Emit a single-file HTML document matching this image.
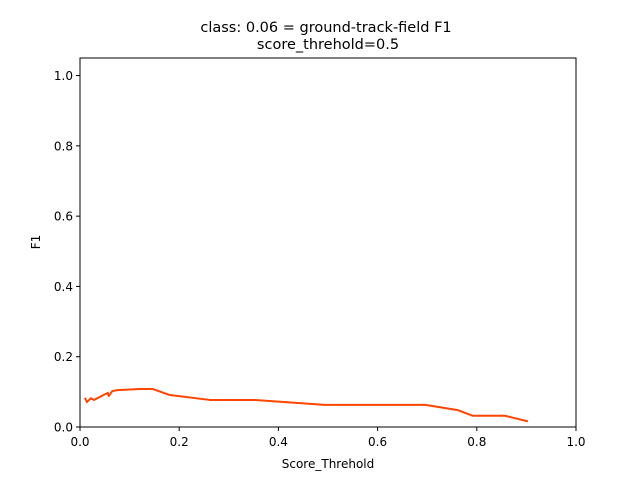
<!DOCTYPE html>
<html><head><meta charset="utf-8"><style>
body{margin:0;background:#fff;}
svg text{font-family:"DejaVu Sans","Liberation Sans",sans-serif;fill:#000;}
</style></head><body>
<svg id="chart" width="640" height="480" xmlns="http://www.w3.org/2000/svg">
<rect width="640" height="480" fill="#fff"/>
<text x="326" y="32" text-anchor="middle" font-size="14.5">class: 0.06 = ground-track-field F1</text>
<text x="328" y="49" text-anchor="middle" font-size="14.5">score_threhold=0.5</text>
<g id="ticks"></g>
<polyline id="line" fill="none" stroke="#ff4500" stroke-width="2" stroke-linejoin="round"/>
<rect x="80" y="58" width="496" height="369" fill="none" stroke="#000" stroke-width="1"/>
<text x="328" y="468" text-anchor="middle" font-size="12">Score_Threhold</text>
<text transform="translate(40,242) rotate(-90)" text-anchor="middle" font-size="12">F1</text>
</svg>
<script>
const xVals=[0.010,0.014,0.022,0.028,0.056,0.058,0.065,0.075,0.121,0.147,0.181,0.262,0.353,0.494,0.696,0.762,0.792,0.857,0.903];
const f1Vals=[0.083,0.071,0.082,0.077,0.097,0.088,0.102,0.105,0.108,0.108,0.091,0.077,0.077,0.063,0.063,0.048,0.032,0.032,0.016];
const xTicks=["0.0","0.2","0.4","0.6","0.8","1.0"];
const yTicks=["0.0","0.2","0.4","0.6","0.8","1.0"];
const X=v=>80+v*496, Y=v=>427-v*(369/1.05);
const ns="http://www.w3.org/2000/svg";
const g=document.getElementById('ticks');
function mk(t,a){const e=document.createElementNS(ns,t);for(const k in a)e.setAttribute(k,a[k]);g.appendChild(e);return e;}
xTicks.forEach(t=>{const x=X(+t);
const l=mk('line',{x1:x,x2:x,y1:427,y2:431,stroke:'#000'});


const s=mk('text',{x:x,y:446,'text-anchor':'middle','font-size':12});s.textContent=t;

});
yTicks.forEach(t=>{const y=Y(+t);
const l=mk('line',{x1:76,x2:80,y1:y,y2:y,stroke:'#000'});


const s=mk('text',{x:73,y:y+4.5,'text-anchor':'end','font-size':12});s.textContent=t;

});
document.getElementById('line').setAttribute('points',xVals.map((v,i)=>X(v)+','+Y(f1Vals[i])).join(' '));
</script>
</body></html>
